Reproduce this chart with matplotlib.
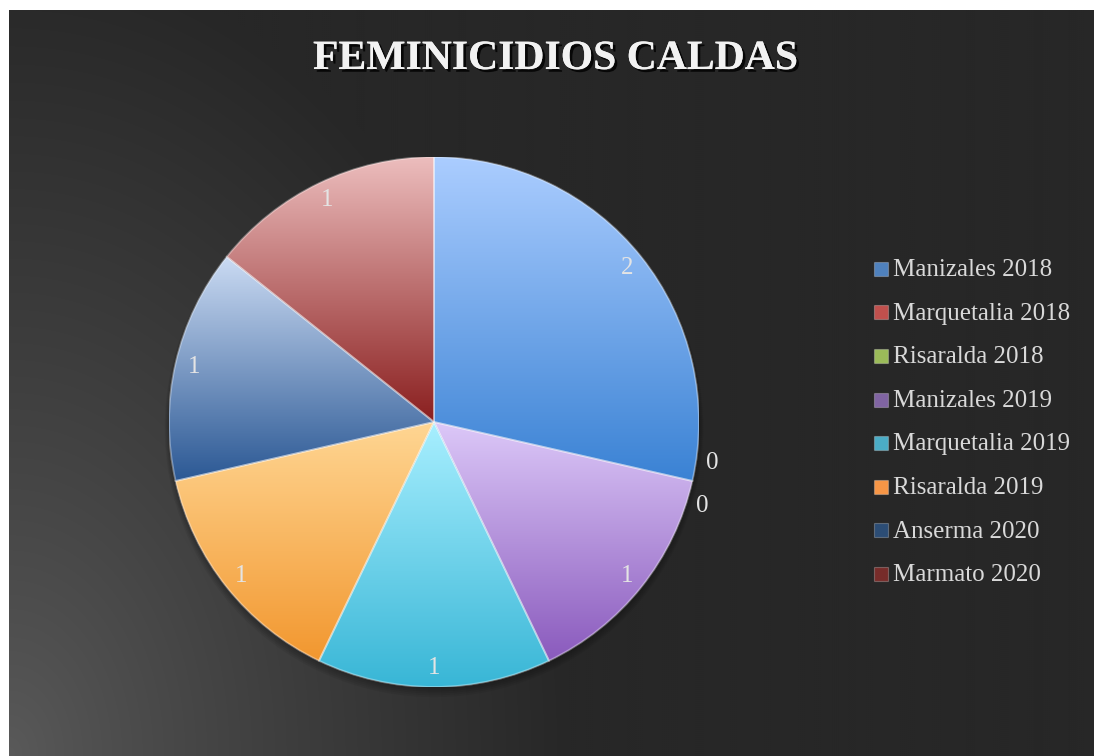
import numpy as np
import matplotlib
matplotlib.use('Agg')
import matplotlib.pyplot as plt
import matplotlib.patheffects as pe
from matplotlib.colors import to_rgb
from matplotlib.patches import Rectangle, Wedge

title = "FEMINICIDIOS CALDAS"
categories = ["Manizales 2018", "Marquetalia 2018", "Risaralda 2018", "Manizales 2019",
              "Marquetalia 2019", "Risaralda 2019", "Anserma 2020", "Marmato 2020"]
values = [2, 0, 0, 1, 1, 1, 1, 1]

legend_colors = ["#4f81bd", "#c0504d", "#9bbb59", "#8064a2",
                 "#4bacc6", "#f79646", "#2c4d75", "#772c2a"]
slice_top = ["#abcdff", "#f0a8a6", "#d8f0a0", "#dcc8f8",
             "#a8efff", "#ffd693", "#cbdbf3", "#ecbdbd"]
slice_bottom = ["#3a82d4", "#a02824", "#6f9a2a", "#8a5abd",
                "#38b6d6", "#f2972f", "#2b5894", "#8a1f1f"]

W, H = 1094, 756
fig = plt.figure(figsize=(W / 100, H / 100), dpi=100)
fig.patch.set_facecolor('white')

# ---- background panel with radial gradient from bottom-left ----
bg = fig.add_axes([9 / W, 0, (W - 9) / W, (H - 10) / H])
bg.set_axis_off()
ny, nx = 373, 543
yy, xx = np.mgrid[0:ny, 0:nx]
px = xx * (W - 9) / nx
py = yy * (H - 10) / ny
d = np.sqrt((px / 560) ** 2 + (py / 800) ** 2)
t = np.clip(d, 0, 1) ** 0.85
c0 = np.array([0x5a] * 3) / 255
c1 = np.array([0x27] * 3) / 255
img = c0 + (c1 - c0) * t[..., None]
bg.imshow(img, origin='lower', extent=[0, 1, 0, 1], aspect='auto', interpolation='bilinear')
bg.set_xlim(0, 1)
bg.set_ylim(0, 1)

# ---- pie ----
cx, cy, R = 434, 422, 265
ax = fig.add_axes([(cx - R) / W, (H - cy - R) / H, 2 * R / W, 2 * R / H])
ax.set_axis_off()

# soft shadow under the pie
for k in range(5):
    ax.add_patch(plt.Circle((0.0, -0.01 - 0.003 * k), 1.0 + 0.004 * k,
                            color='black', alpha=0.06, zorder=0, lw=0, clip_on=False))

wedges, _ = ax.pie(values, startangle=90, counterclock=False, colors=legend_colors,
                   radius=1, wedgeprops=dict(linewidth=0))

for w, top, bot, v in zip(wedges, slice_top, slice_bottom, values):
    if v <= 0:
        continue
    verts = w.get_path().vertices
    xmin, xmax = verts[:, 0].min(), verts[:, 0].max()
    ymin, ymax = verts[:, 1].min(), verts[:, 1].max()
    n = 256
    f = np.linspace(0, 1, n)[:, None]
    grad = np.array(to_rgb(bot))[None, :] * (1 - f) + np.array(to_rgb(top))[None, :] * f
    grad = np.repeat(grad[:, None, :], 2, axis=1)
    im = ax.imshow(grad, origin='lower', extent=[xmin, xmax, ymin, ymax],
                   aspect='auto', interpolation='bilinear', zorder=2)
    im.set_clip_path(w)
    ax.add_patch(Wedge(w.center, w.r, w.theta1, w.theta2, fill=False,
                       ec=(1, 1, 1, 0.35), lw=1.4, zorder=3))

ax.set_xlim(-1, 1)
ax.set_ylim(-1, 1)
ax.set_aspect('equal')

# ---- data labels ----
zero_idx = [i for i, v in enumerate(values) if v == 0]
for i, (w, v) in enumerate(zip(wedges, values)):
    mid = np.deg2rad((w.theta1 + w.theta2) / 2)
    if v == 0:
        k = zero_idx.index(i)
        mid = mid + np.deg2rad(4.5 - 9.0 * k)
        r = 1.06
    else:
        r = 0.93
    ax.text(r * np.cos(mid), r * np.sin(mid), f"{v}", ha='center', va='center',
            fontsize=18, family='Liberation Serif', color='#e4e4e4', zorder=6)

# ---- title ----
fig.text(555 / W, 1 - 69 / H, title, ha='center', va='baseline', fontsize=30,
         fontweight='bold', family='Liberation Serif', color='#f2f2f2',
         path_effects=[pe.withSimplePatchShadow(offset=(2, -2), shadow_rgbFace='black', alpha=0.8),
                       pe.Normal()])

# ---- legend ----
row0, step = 276, 43.6
for i, (cat, col) in enumerate(zip(categories, legend_colors)):
    base = row0 + i * step
    fig.patches.append(Rectangle((874 / W, 1 - (base - 0.3) / H), 13.5 / W, 14 / H,
                                 transform=fig.transFigure, facecolor=col,
                                 edgecolor=(1, 1, 1, 0.25), lw=0.8))
    fig.text(893 / W, 1 - base / H, cat, ha='left', va='baseline', fontsize=18,
             family='Liberation Serif', color='#d9d9d9')

fig.savefig('out.png', dpi=100, facecolor=fig.get_facecolor())
